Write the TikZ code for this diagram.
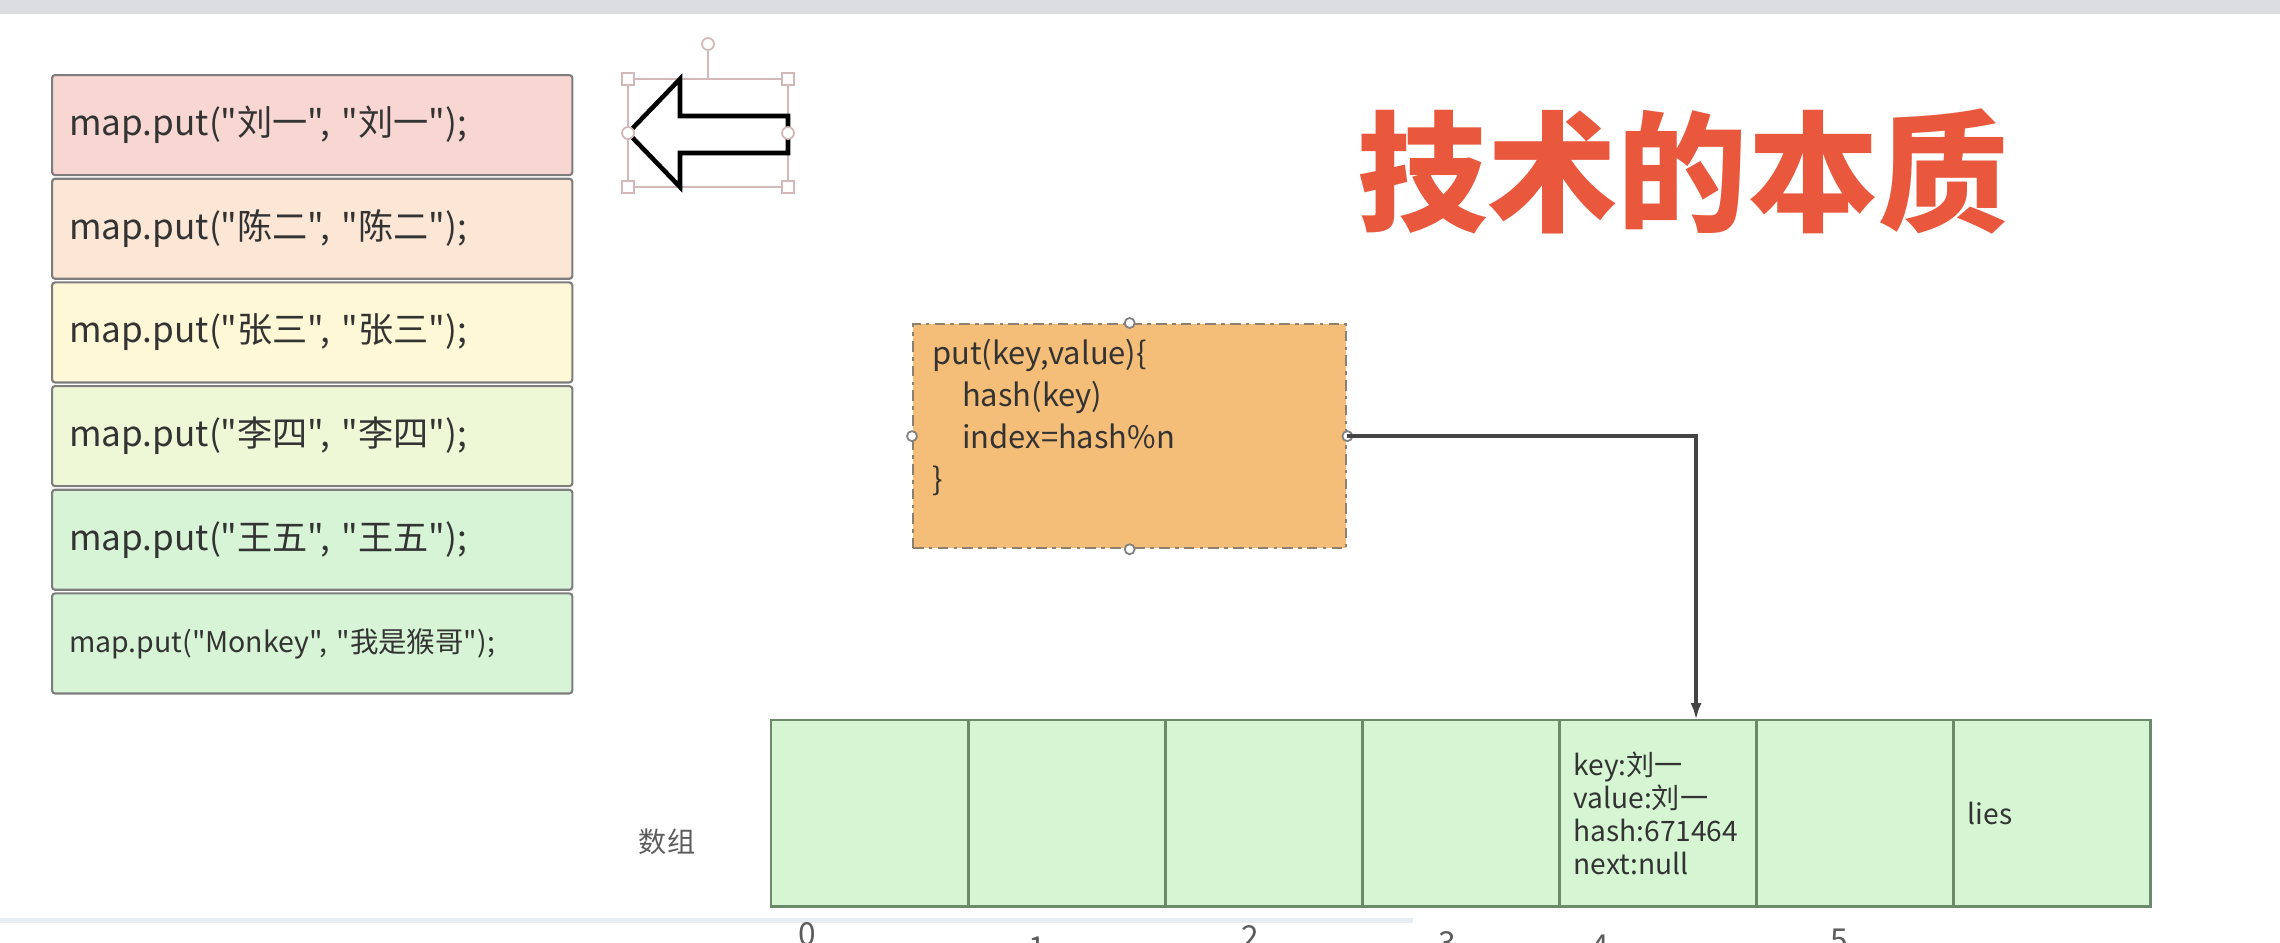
\documentclass[tikz,border=0pt]{standalone}
\usepackage{fontspec}
\setmainfont{Noto Sans CJK SC}[Ligatures=TeXOff]
\usetikzlibrary{positioning,arrows.meta}

\definecolor{boxline}{HTML}{7D7D7D}
\definecolor{txt}{HTML}{333333}
\definecolor{rowa}{HTML}{F8D7D3}
\definecolor{rowb}{HTML}{FCE6D5}
\definecolor{rowc}{HTML}{FFF8D6}
\definecolor{rowd}{HTML}{EEF8D6}
\definecolor{rowe}{HTML}{D7F5D6}
\definecolor{codefill}{HTML}{F5BE78}
\definecolor{codeline}{HTML}{8C8070}
\definecolor{cellfill}{HTML}{D5F5D3}
\definecolor{cellline}{HTML}{6A8A6A}
\definecolor{connline}{HTML}{444444}
\definecolor{titlered}{HTML}{E9573C}
\definecolor{selcol}{HTML}{D2B8B8}
\definecolor{band}{HTML}{DCDDE1}
\definecolor{lineblue}{HTML}{E6EEF4}

\begin{document}
\begin{tikzpicture}[x=0.01cm,y=-0.01cm,>={Latex[length=0.17cm,width=0.11cm]},
    putbox/.style={draw=boxline,rounded corners=0.03cm,line width=0.6pt,text width=4.86cm,inner xsep=0.17cm,
      minimum height=1.0cm,align=left,text=txt,font=\fontsize{10}{11}\selectfont},
    codebox/.style={draw=codeline,fill=codefill,dash pattern=on 3pt off 1.5pt on 1pt off 1.5pt,line width=0.6pt,
      text width=3.95cm,inner xsep=0.19cm,minimum height=2.24cm,align=left,text=txt,font=\fontsize{8.8}{12}\selectfont},
    cell/.style={draw=cellline,fill=cellfill,line width=0.8pt,minimum width=1.97cm,minimum height=1.86cm,
      inner sep=0pt,outer sep=0pt},
    celltext/.style={cell,text width=1.69cm,inner xsep=0.14cm,align=left,text=txt,font=\fontsize{8}{9.4}\selectfont},
    idx/.style={text=txt!80,font=\fontsize{9}{10}\selectfont,inner sep=0pt},
    conn/.style={draw=connline,line width=1pt},
    selline/.style={draw=selcol,line width=0.5pt},
    handle/.style={selline,fill=white}]
    \useasboundingbox (0,0) rectangle (2280,942);
    \clip (0,0) rectangle (2280,942);
    \fill[band] (0,0) rectangle (2280,14);
    \fill[lineblue] (0,918) rectangle (1413,923);

    % the map.put calls
    \node[putbox,fill=rowa,anchor=north west] (r1) at (51,74) {map.put("刘一", "刘一");};
    \node[putbox,fill=rowb,below=0.015cm of r1] (r2) {map.put("陈二", "陈二");};
    \node[putbox,fill=rowc,below=0.015cm of r2] (r3) {map.put("张三", "张三");};
    \node[putbox,fill=rowd,below=0.015cm of r3] (r4) {map.put("李四", "李四");};
    \node[putbox,fill=rowe,below=0.015cm of r4] (r5) {map.put("王五", "王五");};
    \node[putbox,fill=rowe,below=0.015cm of r5,font=\fontsize{8.1}{9}\selectfont] (r6) {map.put("Monkey", "我是猴哥");};

    % arrow shape with its selection frame
    \draw[selline] (628,79) rectangle (788,187);
    \draw[selline] (708,79) -- (708,50);
    \draw[line width=1.3pt,fill=white] (628,133) -- (680,79) -- (680,116) -- (788,116) -- (788,153)
      -- (680,153) -- (680,187) -- cycle;
    \foreach \x/\y in {628/79,788/79,628/187,788/187}
      \draw[handle] (\x-6,\y-6) rectangle ++(12,12);
    \foreach \x/\y in {628/133,788/133,708/44}
      \draw[handle] (\x,\y) circle (0.06cm);

    \node[text=titlered,font=\fontsize{37}{40}\selectfont\bfseries] (title) at (1683,171) {技术的本质};

    % put() box
    \node[codebox,anchor=north west] (code) at (912,323)
      {put(key,value)\{\\\hspace*{0.3cm}hash(key)\\\hspace*{0.3cm}index=hash\%n\\\}\\\mbox{}};
    \foreach \a in {north,south,west,east}
      \draw[handle,draw=gray] (code.\a) circle (0.05cm);

    % the array
    \node[text=txt!80,font=\fontsize{8}{9}\selectfont] (arr) at (667,842) {数组};
    \node[cell,anchor=north west] (c0) at (771,720) {};
    \node[cell,right=0pt of c0] (c1) {};
    \node[cell,right=0pt of c1] (c2) {};
    \node[cell,right=0pt of c2] (c3) {};
    \node[celltext,right=0pt of c3] (c4) {key:刘一\\value:刘一\\hash:671464\\next:null};
    \node[cell,right=0pt of c4] (c5) {};
    \node[celltext,right=0pt of c5] (c6) {lies};
    \foreach \n/\xx/\yy in {0/807/922,1/1037/936,2/1250/925,3/1447/931,4/1600/934,5/1839/928}
      \node[idx,anchor=north] (i\n) at (\xx,\yy) {\n};

    \draw[conn,->] (code.east) -| ([xshift=0.38cm]c4.north);
\end{tikzpicture}
\end{document}
